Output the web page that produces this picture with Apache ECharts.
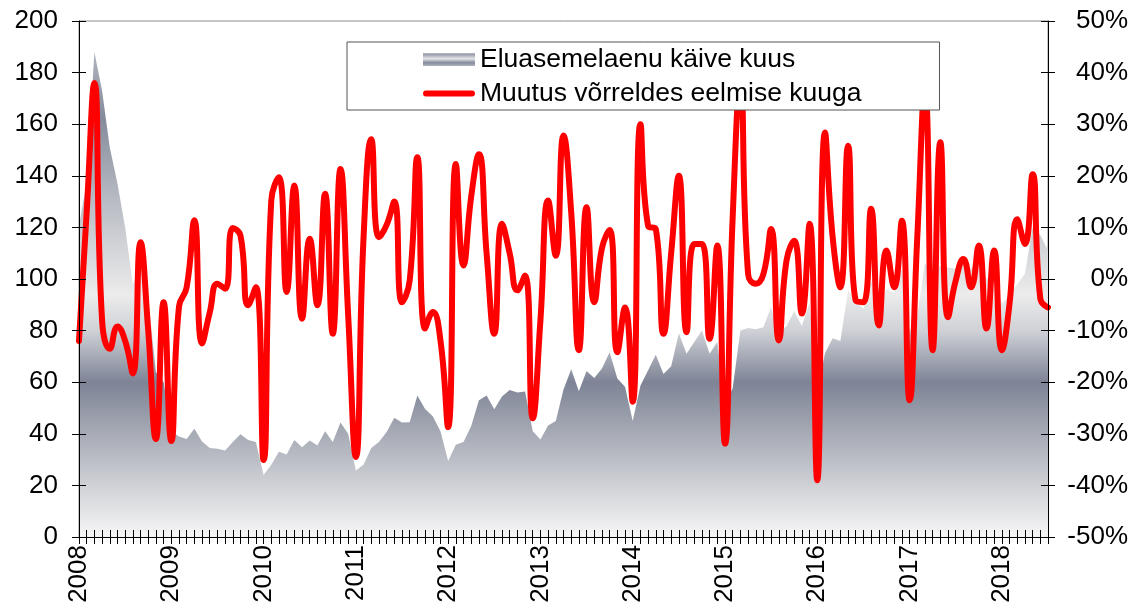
<!DOCTYPE html>
<html>
<head>
<meta charset="utf-8">
<script src="https://cdn.jsdelivr.net/npm/echarts@6/dist/echarts.min.js"></script>
<style>
html,body{margin:0;padding:0;background:#fff;}
#chart{width:1142px;height:607px;}
</style>
</head>
<body>
<div id="chart"></div>
<script>
// Months Jan 2008 .. Jul 2018
const categories = [];
for (let y = 2008; y <= 2018; y++) {
  for (let m = 1; m <= 12; m++) {
    if (y === 2018 && m > 7) break;
    categories.push(y + '-' + String(m).padStart(2, '0'));
  }
}

const seriesNames = ['Eluasemelaenu käive kuus', 'Muutus võrreldes eelmise kuuga'];

// Monthly housing loan turnover (left axis)
const turnover = [
  121, 137, 188, 173, 151, 137, 120, 98, 104, 93, 64, 60,
  41, 39, 38, 42, 37, 34.5, 34.2, 33.5, 36.8, 39.8, 37.6, 36.8,
  24, 28, 33, 32, 37.6, 34.8, 37.4, 35.5, 41, 36.8, 44.4, 40,
  25.8, 28, 34.5, 36.8, 40.7, 46.2, 44.4, 44.5, 54.8, 49.6, 46.8, 41,
  29.5, 35.8, 36.8, 43, 53, 54.8, 49.5, 54.5, 57, 56, 56.4, 41,
  37.8, 43.2, 45, 57.2, 65, 56.5, 64.3, 61.6, 65.3, 71.6, 61.4, 58.2,
  45, 58.6, 64.6, 70.6, 63.2, 66.2, 79, 71, 75.6, 80, 71, 75.6,
  51.5, 57.7, 80, 81, 80.5, 81.3, 89.2, 79, 81.8, 87.5, 81.8, 91,
  55.5, 71.3, 77, 76, 95.5, 92, 88.5, 99.5, 90.5, 96, 94.7, 104,
  79.5, 86, 106, 103, 105, 104.5, 104, 106, 104, 110, 100, 103,
  90.4, 94, 98, 102, 120, 117, 111
];

// Change vs previous month, % (right axis)
const changePct = [
  -12, 13, 38, -8, -13.5, -9.2, -12, -18.3, 7.1, -10, -31, -4.5,
  -31.4, -5.4, -1.6, 11.4, -12.5, -6.5, -0.9, -1.9, 9.9, 8.4, -5.1, -1.6,
  -35.1, 15.2, 19.7, -2.5, 18.1, -7.7, 7.8, -5.1, 16.5, -10.6, 21.3, -7,
  -34.5, 8, 27.1, 8.1, 10.5, 15, -4.5, -0.3, 23.6, -9.6, -6.4, -11.9,
  -28.7, 22.3, 2.6, 16, 24.2, 5, -10.6, 10.7, 5, -2.2, 0.7, -27,
  -8, 15.2, 4.5, 27.8, 13, -13.8, 13.9, -4.5, 6, 9.5, -14.2, -5.5,
  -23.8, 30, 10.3, 9.7, -10.6, 5, 20, -10.3, 6.8, 6.8, -11.6, 6.5,
  -31.9, 12, 38, 1, -0.9, 1, 9.7, -11.9, 3.6, 7.4, -6.7, 10.7,
  -39, 28.4, 8.1, -1.6, 25.8, -4.2, -4.5, 13.6, -9, 5.5, -1.6, 11.3,
  -23.5, 8, 37, -13.8, 26.5, -7.4, -0.3, 3.9, -1.6, 6.5, -9.6, 5.5,
  -13.8, -4.8, 11.6, 6.8, 20.3, -3.8, -5.5
];

const leftAxis = { min: 0, max: 200, interval: 20 };
const rightAxis = { min: -50, max: 50, interval: 10 };

const FONT = "'Liberation Sans', Arial, sans-serif";

const chart = echarts.init(document.getElementById('chart'), null, { renderer: 'canvas' });

const areaFill = new echarts.graphic.LinearGradient(0, 21, 0, 537, [
  { offset: 0.00, color: '#c4c7ce' },
  { offset: 0.06, color: '#b0b4bd' },
  { offset: 0.19, color: '#858b9c' },
  { offset: 0.35, color: '#b9bcc4' },
  { offset: 0.53, color: '#ececec' },
  { offset: 0.60, color: '#cfd1d6' },
  { offset: 0.70, color: '#7e8496' },
  { offset: 0.79, color: '#a3a7b2' },
  { offset: 0.91, color: '#d3d5d9' },
  { offset: 1.00, color: '#f6f6f6' }
], true);

const legendAreaFill = new echarts.graphic.LinearGradient(0, 0, 0, 1, [
  { offset: 0.0, color: '#d0d3d9' },
  { offset: 0.2, color: '#9aa0ae' },
  { offset: 0.45, color: '#e6e6e8' },
  { offset: 0.7, color: '#858b9c' },
  { offset: 1.0, color: '#c4c7ce' }
]);

const commonLabel = { fontSize: 26, fontFamily: FONT, color: '#000' };

const option = {
  animation: false,
  backgroundColor: '#fff',
  grid: {
    left: 79, right: 94, top: 21, bottom: 70,
    show: true, borderColor: '#8c8c8c', borderWidth: 1, backgroundColor: 'transparent'
  },
  legend: {
    orient: 'vertical',
    left: 347, top: 42,
    padding: [4, 78, 3, 76],
    itemGap: 7,
    itemWidth: 52, itemHeight: 16,
    backgroundColor: '#fff',
    borderColor: '#555', borderWidth: 1,
    textStyle: { fontSize: 26.5, fontFamily: FONT, color: '#000' },
    data: [
      {
        name: seriesNames[0],
        icon: 'path://M0,0 L0.01,0 L0,0.01 Z M0,1.5 L52,1.5 L52,14.5 L0,14.5 Z M52,16 L51.99,16 L52,15.99 Z',
        itemStyle: { color: legendAreaFill }
      },
      {
        name: seriesNames[1],
        icon: 'path://M0,0 L0.01,0 L0,0.01 Z M3,5 L49,5 A3,3 0 0 1 49,11 L3,11 A3,3 0 0 1 3,5 Z M52,16 L51.99,16 L52,15.99 Z',
        itemStyle: { color: '#ff0000' }
      }
    ]
  },
  xAxis: [
    {
      type: 'category', data: categories, boundaryGap: false, position: 'bottom',
      axisLine: { show: true, onZero: false, lineStyle: { color: '#000', width: 1 } },
      axisTick: { show: true, interval: 0, length: 7, lineStyle: { color: '#000' } },
      axisLabel: Object.assign({}, commonLabel, {
        interval: 11, rotate: 90, margin: 8,
        formatter: function (v) { return v.slice(0, 4); }
      }),
      splitLine: { show: false },
      z: 5
    },
    {
      type: 'category', data: categories, boundaryGap: false, position: 'bottom',
      axisLine: { show: false, onZero: false },
      axisTick: { show: true, inside: true, interval: 0, length: 7, lineStyle: { color: '#000' } },
      axisLabel: { show: false },
      splitLine: { show: false },
      z: 5
    }
  ],
  yAxis: [
    {
      type: 'value', position: 'left', min: leftAxis.min, max: leftAxis.max, interval: leftAxis.interval,
      axisLine: { show: true, onZero: false, lineStyle: { color: '#000', width: 1 } },
      axisTick: { show: true, length: 7, lineStyle: { color: '#000' } },
      axisLabel: Object.assign({}, commonLabel, { margin: 21 }),
      splitLine: { show: false },
      z: 5
    },
    {
      type: 'value', position: 'right', min: rightAxis.min, max: rightAxis.max, interval: rightAxis.interval,
      axisLine: { show: true, onZero: false, lineStyle: { color: '#000', width: 1 } },
      axisTick: { show: true, length: 7, lineStyle: { color: '#000' } },
      axisLabel: Object.assign({}, commonLabel, { margin: 80, align: 'right', formatter: '{value}%' }),
      splitLine: { show: false },
      z: 5
    },
    {
      type: 'value', position: 'left', min: leftAxis.min, max: leftAxis.max, interval: leftAxis.interval,
      axisLine: { show: false, onZero: false },
      axisTick: { show: true, inside: true, length: 7, lineStyle: { color: '#000' } },
      axisLabel: { show: false },
      splitLine: { show: false },
      z: 5
    },
    {
      type: 'value', position: 'right', min: rightAxis.min, max: rightAxis.max, interval: rightAxis.interval,
      axisLine: { show: false, onZero: false },
      axisTick: { show: true, inside: true, length: 7, lineStyle: { color: '#000' } },
      axisLabel: { show: false },
      splitLine: { show: false },
      z: 5
    }
  ],
  series: [
    {
      name: seriesNames[0],
      type: 'line',
      xAxisIndex: 0, yAxisIndex: 0,
      data: turnover,
      symbol: 'none', showSymbol: false,
      lineStyle: { width: 0 },
      itemStyle: { color: '#8a90a0' },
      areaStyle: { color: areaFill, opacity: 1 },
      z: 1
    },
    {
      name: seriesNames[1],
      type: 'line',
      xAxisIndex: 0, yAxisIndex: 1,
      data: changePct,
      symbol: 'none', showSymbol: false,
      smooth: 0.5,
      color: '#ff0000',
      lineStyle: { color: '#ff0000', width: 6, cap: 'round', join: 'round' },
      z: 3
    }
  ]
};

chart.setOption(option);
</script>
</body>
</html>
